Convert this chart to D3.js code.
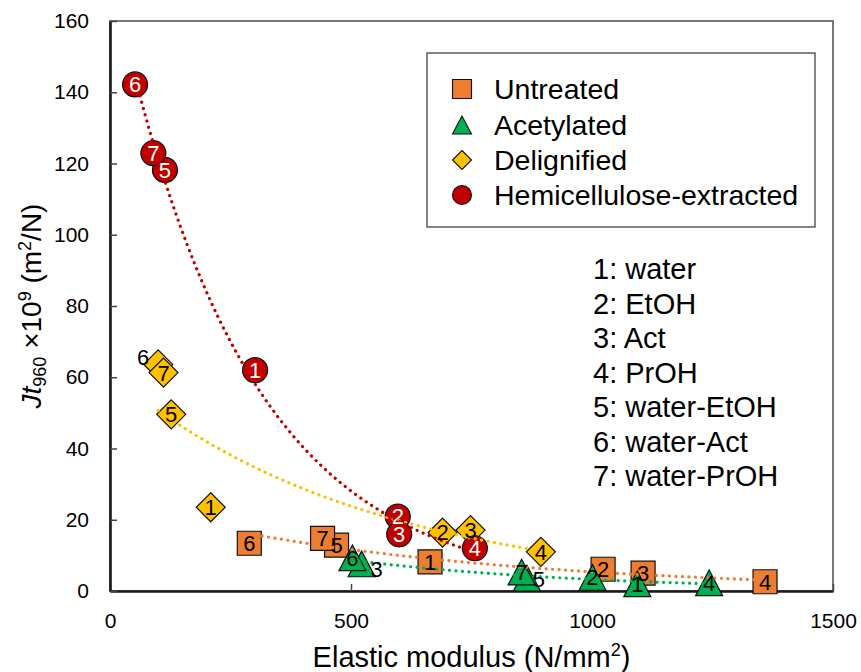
<!DOCTYPE html>
<html>
<head>
<meta charset="utf-8">
<script src="https://cdn.jsdelivr.net/npm/d3@7"></script>
<style>
  body { margin: 0; background: #fff; }
  svg { font-family: "Liberation Sans", Arial, sans-serif; }
</style>
</head>
<body>
<div id="chart"></div>
<script>
// solvent numbering used for the point labels
const ids = [1, 2, 3, 4, 5, 6, 7]
const solventNames = ["water", "EtOH", "Act", "PrOH", "water-EtOH", "water-Act", "water-PrOH"]

// elastic modulus (N/mm2) and Jt960 x10^9 (m2/N), in solvent order 1..7
const untreatedModulus = [664, 1023, 1106, 1359, 470, 289, 441]
const untreatedJ = [8.2, 6.1, 5.0, 2.6, 12.9, 13.4, 14.8]
const acetylatedModulus = [1094, 1001, 522, 1243, 865, 503, 854]
const acetylatedJ = [2.0, 3.8, 7.6, 2.3, 3.6, 9.3, 5.3]
const delignifiedModulus = [209, 690, 748, 894, 127, 100, 111]
const delignifiedJ = [23.5, 16.4, 17.1, 11.0, 49.6, 63.6, 61.3]
const hemiModulus = [301, 597, 600, 757, 114, 52, 90]
const hemiJ = [62.0, 20.9, 15.9, 12.0, 118.2, 142.2, 122.9]

const xTicks = [0, 500, 1000, 1500]
const yTicks = [0, 20, 40, 60, 80, 100, 120, 140, 160]

const WIDTH = 861
const HEIGHT = 672
const margin = {top: 21, right: 28, bottom: 81, left: 110}

const series = [
  {name: "Untreated", shape: "square", color: "#ED7D31", textColor: "#000", xs: untreatedModulus, ys: untreatedJ},
  {name: "Acetylated", shape: "triangle", color: "#00B050", textColor: "#000", xs: acetylatedModulus, ys: acetylatedJ},
  {name: "Delignified", shape: "diamond", color: "#FFC000", textColor: "#000", xs: delignifiedModulus, ys: delignifiedJ},
  {name: "Hemicellulose-extracted", shape: "circle", color: "#C00000", textColor: "#fff", xs: hemiModulus, ys: hemiJ}
]

// a few labels were moved off their marker in the original
const labelShift = {
  "Delignified-6": [-15, -7],
  "Acetylated-3": [15, 5],
  "Acetylated-5": [12, 1]
}

const svg = d3.select("#chart")
  .append("svg")
  .attr("width", WIDTH)
  .attr("height", HEIGHT)

const x = d3.scaleLinear()
  .domain([0, 1500])
  .range([margin.left, WIDTH - margin.right])

const y = d3.scaleLinear()
  .domain([0, 160])
  .range([HEIGHT - margin.bottom, margin.top])

// marker path, centred on 0,0; s = overall size
function markerPath(shape, s) {
  const h = s / 2
  if (shape === "square") return `M${-h},${-h}H${h}V${h}H${-h}Z`
  if (shape === "diamond") return `M0,${-h}L${h},0L0,${h}L${-h},0Z`
  if (shape === "triangle") return `M0,${-h * 0.95}L${h},${h * 0.95}L${-h},${h * 0.95}Z`
  return d3.arc()({innerRadius: 0, outerRadius: h, startAngle: 0, endAngle: 2 * Math.PI})
}
const markerSize = {square: 24, diamond: 29, triangle: 27, circle: 25}
const legendSize = {square: 19, diamond: 19, triangle: 19, circle: 19}

// plot frame (top/right) then axes
svg.append("rect")
  .attr("x", margin.left)
  .attr("y", margin.top)
  .attr("width", WIDTH - margin.left - margin.right)
  .attr("height", HEIGHT - margin.top - margin.bottom)
  .attr("fill", "none")
  .attr("stroke", "#555")
  .attr("stroke-width", 1.6)

const xAxis = svg.append("g")
  .attr("transform", `translate(0,${HEIGHT - margin.bottom})`)
  .call(d3.axisBottom(x).tickValues(xTicks).tickFormat(d3.format("d"))
    .tickSizeInner(-7).tickSizeOuter(0).tickPadding(22))
const yAxis = svg.append("g")
  .attr("transform", `translate(${margin.left},0)`)
  .call(d3.axisLeft(y).tickValues(yTicks).tickFormat(d3.format("d"))
    .tickSizeInner(-7).tickSizeOuter(0).tickPadding(21))

for (const ax of [xAxis, yAxis]) {
  ax.select(".domain").attr("stroke", "#1a1a1a").attr("stroke-width", 2.6)
  ax.selectAll(".tick line").attr("stroke", "#444").attr("stroke-width", 1.5)
  ax.selectAll(".tick text").attr("font-size", 21).attr("fill", "#000")
    .style("font-family", "'Liberation Sans', Arial, sans-serif")
}

// axis titles
const xTitle = svg.append("text")
  .attr("x", (margin.left + WIDTH - margin.right) / 2)
  .attr("y", 667)
  .attr("text-anchor", "middle")
  .attr("font-size", 29)
xTitle.append("tspan").text("Elastic modulus (N/mm")
xTitle.append("tspan").attr("font-size", 18).attr("dy", -11).text("2")
xTitle.append("tspan").attr("dy", 11).text(")")

const yTitle = svg.append("text")
  .attr("transform", `translate(41,${(margin.top + HEIGHT - margin.bottom) / 2}) rotate(-90)`)
  .attr("text-anchor", "middle")
  .attr("font-size", 28)
yTitle.append("tspan").attr("font-style", "italic").text("Jt")
yTitle.append("tspan").attr("font-size", 18).attr("dy", 5).text("960")
yTitle.append("tspan").attr("dy", -5).text(" \u00d710")
yTitle.append("tspan").attr("font-size", 18).attr("dy", -10).text("9")
yTitle.append("tspan").attr("dy", 10).text(" (m")
yTitle.append("tspan").attr("font-size", 18).attr("dy", -10).text("2")
yTitle.append("tspan").attr("dy", 10).text("/N)")

// markers, in series order
const markerLayer = svg.append("g")
series.forEach(s => {
  markerLayer.selectAll(null)
    .data(ids)
    .enter().append("path")
    .attr("d", markerPath(s.shape, markerSize[s.shape]))
    .attr("transform", (d, i) => `translate(${x(s.xs[i])},${y(s.ys[i])})`)
    .attr("fill", s.color)
    .attr("stroke", "#111")
    .attr("stroke-width", 1.2)
})

// exponential trend lines (least squares on ln y), drawn above the markers
const line = d3.line().x(d => x(d[0])).y(d => y(d[1]))
series.forEach(s => {
  const lx = s.xs
  const ly = s.ys.map(Math.log)
  const mx = d3.mean(lx)
  const my = d3.mean(ly)
  const b = d3.sum(lx, (v, i) => (v - mx) * (ly[i] - my)) / d3.sum(lx, v => (v - mx) ** 2)
  const a = my - b * mx
  const [lo, hi] = d3.extent(lx)
  const pts = d3.range(0, 101).map(k => {
    const xv = lo + (hi - lo) * k / 100
    return [xv, Math.exp(a + b * xv)]
  })
  svg.append("path")
    .attr("d", line(pts))
    .attr("fill", "none")
    .attr("stroke", s.color)
    .attr("stroke-width", 3.2)
    .attr("stroke-linecap", "round")
    .attr("stroke-dasharray", "0.1 6.4")
})

// point labels on top
series.forEach(s => {
  svg.append("g").selectAll("text")
    .data(ids)
    .enter().append("text")
    .attr("x", (d, i) => x(s.xs[i]) + (labelShift[s.name + "-" + d] || [0, 0])[0])
    .attr("y", (d, i) => y(s.ys[i]) + (labelShift[s.name + "-" + d] || [0, 0])[1])
    .attr("dy", "0.36em")
    .attr("text-anchor", "middle")
    .attr("font-size", 22)
    .attr("fill", d => labelShift[s.name + "-" + d] ? "#000" : s.textColor)
    .text(d => d)
})

// legend
const legend = svg.append("g")
legend.append("rect")
  .attr("x", 427).attr("y", 53)
  .attr("width", 388).attr("height", 174)
  .attr("fill", "#fff")
  .attr("stroke", "#444")
  .attr("stroke-width", 1.3)
const legendRows = [89, 125, 160, 195]
series.forEach((s, i) => {
  legend.append("path")
    .attr("d", markerPath(s.shape, legendSize[s.shape]))
    .attr("transform", `translate(462,${legendRows[i]})`)
    .attr("fill", s.color)
    .attr("stroke", "#111")
    .attr("stroke-width", 1.1)
  legend.append("text")
    .attr("x", 494)
    .attr("y", legendRows[i] + 10)
    .attr("font-size", 28.5)
    .text(s.name)
})

// solvent key
svg.append("g").selectAll("text")
  .data(ids)
  .enter().append("text")
  .attr("x", 593)
  .attr("y", (d, i) => 279 + i * 34.5)
  .attr("font-size", 29)
  .text((d, i) => `${d}: ${solventNames[i]}`)
</script>
</body>
</html>
